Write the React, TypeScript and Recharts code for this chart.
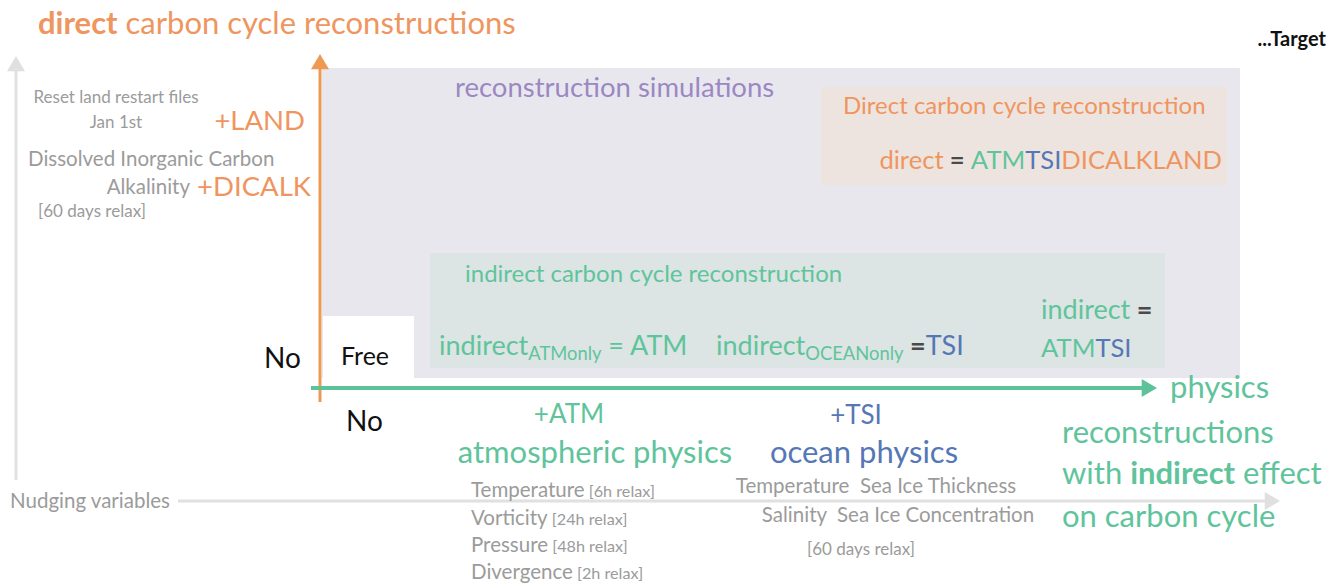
import React from "react";
import {
  ComposedChart,
  XAxis,
  YAxis,
  Scatter,
  ReferenceArea,
  ReferenceLine,
} from "recharts";

// diagram canvas, in the picture's own units (x right, y down)
const canvasX = [0, 1344];
const canvasY = [0, 587];

// shaded panels of the diagram
const panels = [
  { key: "simulations", x1: 322, x2: 1240, y1: 68, y2: 378 },
  { key: "free", x1: 323, x2: 414, y1: 316, y2: 379 },
  { key: "direct", x1: 821, x2: 1227, y1: 87, y2: 185 },
  { key: "indirect", x1: 430, x2: 1165, y1: 253, y2: 368 },
];

// arrows: start point and tip
const arrows = [
  { key: "nudging", from: [178, 501], to: [1280, 501] },
  { key: "nudgingUp", from: [16, 480], to: [16, 56] },
  { key: "carbon", from: [320, 402], to: [320, 54] },
  { key: "physics", from: [311, 388], to: [1157, 388] },
];

// text runs: [text, tone, flag]
const headings = [
  { x: 38, y: 34, anchor: "start", kind: "title", runs: [["direct", "orange", "b"], [" carbon cycle reconstructions", "orange"]] },
  { x: 1326, y: 46, anchor: "end", kind: "target", runs: [["...Target", "black", "b"]] },
  { x: 455, y: 97, anchor: "start", kind: "section", runs: [["reconstruction simulations", "purple"]] },
];

const carbonSide = [
  { x: 116, y: 103, anchor: "middle", kind: "note", runs: [["Reset land restart files", "grey"]] },
  { x: 116, y: 128, anchor: "middle", kind: "note", runs: [["Jan 1st", "grey"]] },
  { x: 305, y: 130, anchor: "end", kind: "plus", runs: [["+LAND", "orange"]] },
  { x: 28, y: 166, anchor: "start", kind: "var", runs: [["Dissolved Inorganic Carbon", "grey"]] },
  { x: 190, y: 194, anchor: "end", kind: "var", runs: [["Alkalinity", "grey"]] },
  { x: 311, y: 196, anchor: "end", kind: "plus", runs: [["+DICALK", "orange"]] },
  { x: 38, y: 217, anchor: "start", kind: "relax", runs: [["[60 days relax]", "grey"]] },
  { x: 264, y: 368, anchor: "start", kind: "no", runs: [["No", "black"]] },
];

const boxTexts = [
  { x: 843, y: 114, anchor: "start", kind: "box", runs: [["Direct carbon cycle reconstruction", "orange"]] },
  { x: 1222, y: 169, anchor: "end", kind: "formulaDirect", runs: [["direct", "orange"], [" = ", "dark"], ["ATM", "green"], ["TSI", "blue"], ["DICALKLAND", "orange"]] },
  { x: 465, y: 282, anchor: "start", kind: "box", runs: [["indirect carbon cycle reconstruction", "green"]] },
  { x: 341, y: 365, anchor: "start", kind: "free", runs: [["Free", "black"]] },
  { x: 439, y: 355, anchor: "start", kind: "formula", runs: [["indirect", "green"], ["ATMonly", "green", "sub"], [" = ATM", "green"]] },
  { x: 716, y: 355, anchor: "start", kind: "formula", runs: [["indirect", "green"], ["OCEANonly", "green", "sub"], [" =", "dark"], ["TSI", "blue"]] },
  { x: 1041, y: 319, anchor: "start", kind: "formula", runs: [["indirect", "green"], [" =", "dark"]] },
  { x: 1041, y: 357, anchor: "start", kind: "formulaDirect", runs: [["ATM", "green"], ["TSI", "blue"]] },
];

const physicsSide = [
  { x: 346, y: 431, anchor: "start", kind: "no", runs: [["No", "black"]] },
  { x: 569, y: 423, anchor: "middle", kind: "axisPlus", runs: [["+ATM", "green"]] },
  { x: 595, y: 463, anchor: "middle", kind: "group", runs: [["atmospheric physics", "green"]] },
  { x: 856, y: 424, anchor: "middle", kind: "axisPlus", runs: [["+TSI", "blue"]] },
  { x: 864, y: 463, anchor: "middle", kind: "group", runs: [["ocean physics", "blue"]] },
  { x: 10, y: 508, anchor: "start", kind: "var", runs: [["Nudging variables", "grey"]] },
];

const atmVariables = [
  { x: 471, y: 497, anchor: "start", kind: "var", runs: [["Temperature", "grey"], [" [6h relax]", "grey", "small"]] },
  { x: 471, y: 525, anchor: "start", kind: "var", runs: [["Vorticity", "grey"], [" [24h relax]", "grey", "small"]] },
  { x: 471, y: 552, anchor: "start", kind: "var", runs: [["Pressure", "grey"], [" [48h relax]", "grey", "small"]] },
  { x: 471, y: 579, anchor: "start", kind: "var", runs: [["Divergence", "grey"], [" [2h relax]", "grey", "small"]] },
];

const oceanVariables = [
  { x: 876, y: 493, anchor: "middle", kind: "var", runs: [["Temperature  Sea Ice Thickness", "grey"]] },
  { x: 898, y: 522, anchor: "middle", kind: "var", runs: [["Salinity  Sea Ice Concentration", "grey"]] },
  { x: 861, y: 555, anchor: "middle", kind: "relax", runs: [["[60 days relax]", "grey"]] },
];

const outcome = [
  { x: 1170, y: 398, anchor: "start", kind: "outcome", runs: [["physics", "green"]] },
  { x: 1062, y: 443, anchor: "start", kind: "outcome", runs: [["reconstructions", "green"]] },
  { x: 1062, y: 484, anchor: "start", kind: "outcome", runs: [["with ", "green"], ["indirect", "green", "b"], [" effect", "green"]] },
  { x: 1062, y: 527, anchor: "start", kind: "outcome", runs: [["on carbon cycle", "green"]] },
];

const FONT = "Lato, 'Open Sans', sans-serif";

const tones: Record<string, string> = {
  orange: "#EF9560",
  green: "#5FC49B",
  blue: "#5677B5",
  purple: "#9B88C3",
  grey: "#9B9B9B",
  dark: "#4A4A4A",
  black: "#111111",
};

const kindSize: Record<string, number> = {
  title: 31,
  target: 20,
  note: 17,
  plus: 27.5,
  var: 20.5,
  relax: 17,
  section: 27.5,
  box: 24,
  formula: 27,
  formulaDirect: 25.6,
  no: 28,
  free: 25,
  axisPlus: 26,
  group: 31,
  outcome: 31,
};

const panelFill: Record<string, string> = {
  simulations: "#E9E7EE",
  free: "#FFFFFF",
  direct: "#EEE4DF",
  indirect: "#DCE4E4",
};

const arrowStyle: Record<string, { color: string; width: number; head: number }> = {
  nudging: { color: "#E0E0E0", width: 3, head: 9 },
  nudgingUp: { color: "#E0E0E0", width: 3, head: 9 },
  carbon: { color: "#EE9A55", width: 3, head: 9 },
  physics: { color: "#5DC29A", width: 4, head: 9 },
};

const labels = [
  ...headings,
  ...carbonSide,
  ...boxTexts,
  ...physicsSide,
  ...atmVariables,
  ...oceanVariables,
  ...outcome,
];

const heads = arrows.map((a) => ({
  key: a.key,
  x: a.to[0],
  y: a.to[1],
  dx: a.to[0] - a.from[0],
  dy: a.to[1] - a.from[1],
}));

function LabelShape(props: any) {
  const { cx, cy, payload } = props;
  const size = kindSize[payload.kind];
  const shift = size * 0.2;
  let inSub = false;
  return (
    <text
      x={cx}
      y={cy}
      textAnchor={payload.anchor}
      fontFamily={FONT}
      fontSize={size}
      style={{ whiteSpace: "pre" }}
    >
      {payload.runs.map((run: string[], i: number) => {
        const [t, tone, flag] = run;
        let dy = 0;
        if (flag === "sub" && !inSub) dy = shift;
        if (flag !== "sub" && inSub) dy = -shift;
        inSub = flag === "sub";
        return (
          <tspan
            key={i}
            dy={dy || undefined}
            fill={tones[tone]}
            fontWeight={flag === "b" || tone === "dark" ? 700 : 400}
            fontSize={flag === "sub" ? size * 0.68 : flag === "small" ? size * 0.79 : size}
          >
            {t}
          </tspan>
        );
      })}
    </text>
  );
}

function HeadShape(props: any) {
  const { cx, cy, payload } = props;
  const st = arrowStyle[payload.key];
  const len = Math.hypot(payload.dx, payload.dy) || 1;
  const ux = payload.dx / len;
  const uy = payload.dy / len;
  const h = st.head * 1.7;
  const w = st.head;
  const bx = cx - ux * h;
  const by = cy - uy * h;
  const pts = [
    [cx, cy],
    [bx - uy * w, by + ux * w],
    [bx + uy * w, by - ux * w],
  ]
    .map((p) => p.join(","))
    .join(" ");
  return <polygon points={pts} fill={st.color} />;
}

export default function App() {
  return (
    <div style={{ position: "absolute", left: 0, top: 0, background: "#fff" }}>
      <ComposedChart
        width={1344}
        height={587}
        margin={{ top: 0, right: 0, bottom: 0, left: 0 }}
      >
        <XAxis type="number" dataKey="x" domain={canvasX} hide allowDataOverflow />
        <YAxis type="number" dataKey="y" domain={canvasY} hide reversed allowDataOverflow />
        {panels.map((p) => (
          <ReferenceArea
            key={p.key}
            x1={p.x1}
            x2={p.x2}
            y1={p.y1}
            y2={p.y2}
            fill={panelFill[p.key]}
            fillOpacity={1}
            stroke="none"
          />
        ))}
        {arrows.map((a) => {
          const st = arrowStyle[a.key];
          const len = Math.hypot(a.to[0] - a.from[0], a.to[1] - a.from[1]);
          const back = (st.head * 1.5) / len;
          const end = {
            x: a.to[0] - (a.to[0] - a.from[0]) * back,
            y: a.to[1] - (a.to[1] - a.from[1]) * back,
          };
          return (
            <ReferenceLine
              key={a.key}
              segment={[{ x: a.from[0], y: a.from[1] }, end]}
              stroke={st.color}
              strokeWidth={st.width}
            />
          );
        })}
        <Scatter data={heads} shape={HeadShape} isAnimationActive={false} />
        <Scatter data={labels} shape={LabelShape} isAnimationActive={false} />
      </ComposedChart>
    </div>
  );
}
